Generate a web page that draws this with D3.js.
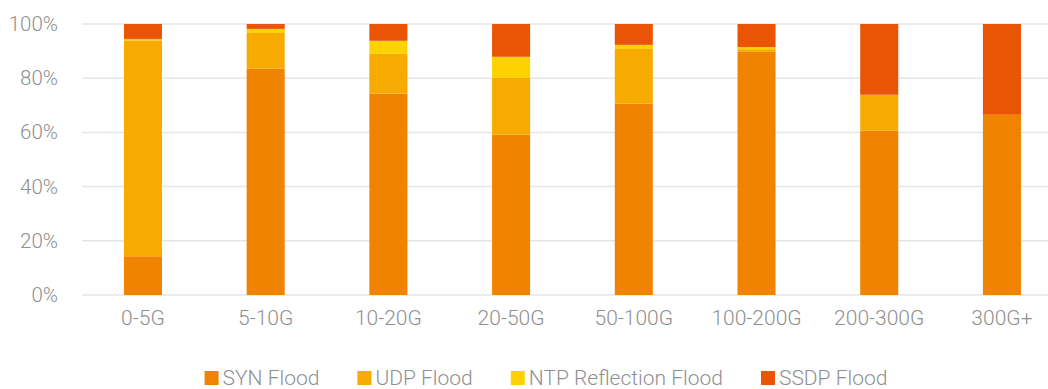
<!DOCTYPE html>
<html>
<head>
<meta charset="utf-8">
<script src="https://cdn.jsdelivr.net/npm/d3@7/dist/d3.min.js"></script>
<style>
  html, body { margin: 0; padding: 0; background: #fff; }
  svg { display: block; font-family: Roboto, "Noto Sans", sans-serif; font-weight: 300; }
</style>
</head>
<body>
<svg id="chart" width="1048" height="389"></svg>
<script>
// Attack size buckets
const categories = ["0-5G", "5-10G", "10-20G", "20-50G", "50-100G", "100-200G", "200-300G", "300G+"];

// Share of each attack type per bucket (%)
const synFlood  = [14.3, 83.5, 74.3, 59.2, 70.6, 89.9, 60.7, 66.5];
const udpFlood  = [79.6, 13.2, 14.7, 20.9, 20.2, 0.8, 13.2, 0];
const ntpFlood  = [0.6, 1.5, 4.8, 7.8, 1.5, 0.8, 0, 0];
const ssdpFlood = [5.5, 1.8, 6.2, 12.1, 7.7, 8.5, 26.1, 33.5];

const seriesNames = ["SYN Flood", "UDP Flood", "NTP Reflection Flood", "SSDP Flood"];
const seriesColors = ["#f08300", "#f7ab00", "#fed100", "#e95504"];
const yTicks = [0, 20, 40, 60, 80, 100];

const svg = d3.select("#chart");
const margin = { top: 24, bottom: 295, left: 82, right: 1048 };
const textColor = "#8f8f8f";

const rows = categories.map((c, i) => ({
  cat: c,
  "SYN Flood": synFlood[i],
  "UDP Flood": udpFlood[i],
  "NTP Reflection Flood": ntpFlood[i],
  "SSDP Flood": ssdpFlood[i]
}));

const stacked = d3.stack().keys(seriesNames)(rows);

const x = d3.scaleBand()
  .domain(categories)
  .range([81.6, 1063.3])
  .paddingInner(0.69)
  .paddingOuter(0.345);

const y = d3.scaleLinear().domain([0, 100]).range([margin.bottom, margin.top]);

const color = d3.scaleOrdinal().domain(seriesNames).range(seriesColors);

// Horizontal gridlines
svg.append("g")
  .selectAll("line")
  .data(yTicks)
  .join("line")
  .attr("x1", margin.left)
  .attr("x2", margin.right)
  .attr("y1", d => y(d))
  .attr("y2", d => y(d))
  .attr("stroke", "#e6e6e6")
  .attr("stroke-width", 1.5);

// Y axis labels
const yAxis = d3.axisLeft(y)
  .tickValues(yTicks)
  .tickFormat(d => d + "%")
  .tickSize(0)
  .tickPadding(0);
const gy = svg.append("g").attr("transform", "translate(58,0)").call(yAxis);
gy.select(".domain").remove();
gy.selectAll("text")
  .attr("fill", textColor)
  .style("font-size", "20.5px")
  .style("font-family", "Roboto, sans-serif")
  .style("font-weight", 300);

// Stacked bars
svg.append("g")
  .selectAll("g")
  .data(stacked)
  .join("g")
  .attr("fill", d => color(d.key))
  .selectAll("rect")
  .data(d => d)
  .join("rect")
  .attr("x", d => x(d.data.cat))
  .attr("width", x.bandwidth())
  .attr("y", d => y(d[1]))
  .attr("height", d => Math.max(0, y(d[0]) - y(d[1])));

// X axis labels
const xAxis = d3.axisBottom(x).tickSize(0).tickPadding(0);
const gx = svg.append("g").attr("transform", "translate(0,310)").call(xAxis);
gx.select(".domain").remove();
gx.selectAll("text")
  .attr("fill", textColor)
  .style("font-size", "21px")
  .style("font-family", "Roboto, sans-serif")
  .style("font-weight", 300);

// Legend, laid out from measured label widths and centred under the plot
const legend = svg.append("g");
const items = legend.selectAll("g")
  .data(seriesNames)
  .join("g");
items.append("rect")
  .attr("width", 14)
  .attr("height", 14)
  .attr("y", 371)
  .attr("fill", d => color(d));
items.append("text")
  .attr("x", 18)
  .attr("y", 385)
  .attr("fill", textColor)
  .style("font-size", "21px")
  .text(d => d);

let offset = 0;
const widths = [];
items.each(function () {
  const w = 18 + d3.select(this).select("text").node().getComputedTextLength();
  widths.push(w);
});
const gap = 38;
const total = d3.sum(widths) + gap * (widths.length - 1);
const start = 546 - total / 2;
items.attr("transform", (d, i) => {
  const tx = start + offset;
  offset += widths[i] + gap;
  return `translate(${tx},0)`;
});
</script>
</body>
</html>
